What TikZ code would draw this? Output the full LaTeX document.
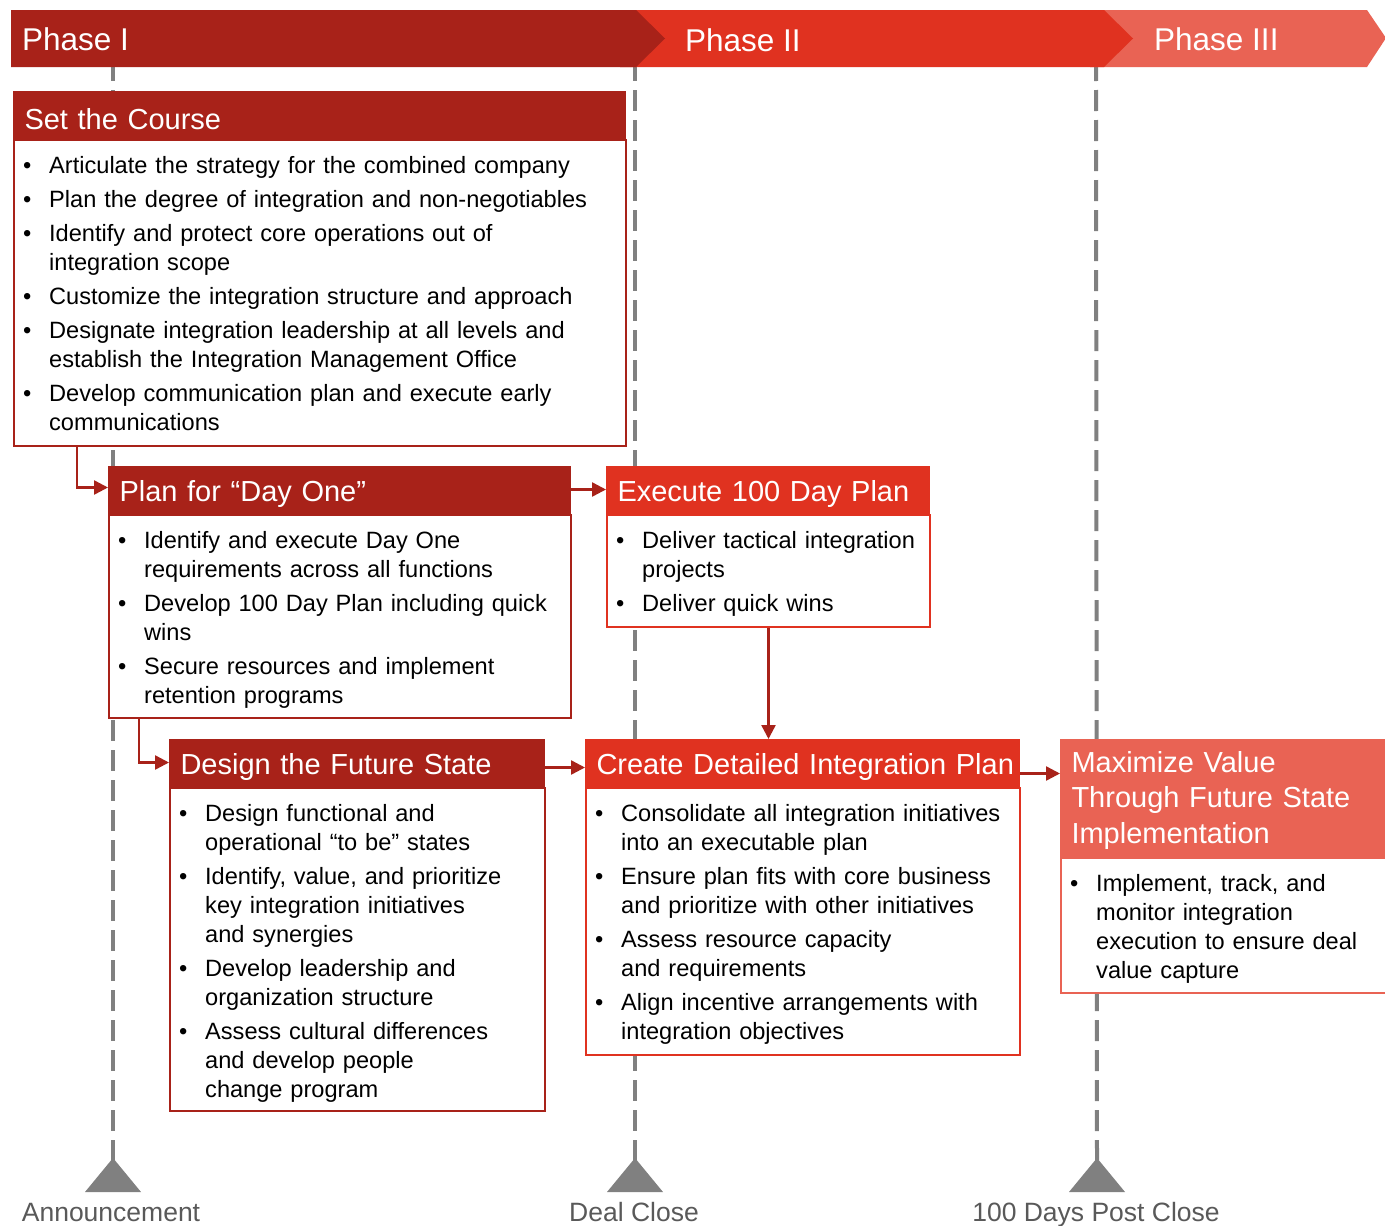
\documentclass[tikz,border=0pt]{standalone}
\usepackage{fontspec}
\setmainfont{Liberation Sans}
\usetikzlibrary{arrows.meta}
\definecolor{dred}{HTML}{A82219}
\definecolor{bred}{HTML}{E03220}
\definecolor{salm}{HTML}{E96354}
\definecolor{lgray}{HTML}{808080}
\definecolor{tgray}{HTML}{595959}
\newcommand{\bodyfont}{\fontsize{23.6}{29}\selectfont}
\newcommand{\hdrfont}{\fontsize{29}{35.5}\selectfont}
\newcommand{\phfont}{\fontsize{31.5}{36}\selectfont}
\newcommand{\lblfont}{\fontsize{26.5}{31}\selectfont}
\newcommand{\hstr}{\rule{0pt}{28pt}}
\newcommand{\bi}[1]{\par\parskip=5pt\noindent\hangindent=36pt\hangafter=1\makebox[36pt][l]{\strut\hspace{10pt}\textbullet}#1\par}
\begin{document}
\begin{tikzpicture}[x=1pt,y=-1pt,
  dashline/.style={draw=lgray,line width=4pt,dash pattern=on 21pt off 9pt},
  hdr/.style={anchor=north west,inner xsep=11pt,inner ysep=0pt,text=white,font=\hdrfont,align=left,fill=#1,draw=#1,line width=1pt},
  frm/.style={anchor=north west,inner sep=0pt,draw=#1,fill=white,line width=2pt},
  btxt/.style={anchor=north west,inner sep=0pt,font=\bodyfont,text=black},
  arr/.style={draw=dred,line width=2.5pt,-{Triangle[length=14pt,width=14pt]}},
  phtxt/.style={anchor=west,inner sep=0pt,text=white,font=\phfont},
  lbl/.style={anchor=base,inner sep=0pt,text=tgray,font=\lblfont},
  milestone/.style={fill=lgray}
]
\useasboundingbox (0,0) rectangle (1385,1226);
\fill[white] (0,0) rectangle (1385,1226);

% milestone lines
\coordinate (t1) at (113,60);
\coordinate (t2) at (635,60);
\coordinate (t3) at (1096,60);
\coordinate (b1) at (113,1160);
\coordinate (b2) at (635,1160);
\coordinate (b3) at (1097,1160);
\draw[dashline] (t1) -- (b1);
\draw[dashline] (t2) -- (b2);
\draw[dashline] (t3) -- (b3);
\fill[milestone] (b1) ++(0,-2) -- ++(28,34) -- ++(-56,0) -- cycle;
\fill[milestone] (b2) ++(0,-2) -- ++(28,34) -- ++(-56,0) -- cycle;
\fill[milestone] (b3) ++(0,-2) -- ++(28,34) -- ++(-56,0) -- cycle;
\node[lbl] (ann) at (111,1221) {Announcement};
\node[lbl] (dcl) at (634,1221) {Deal Close};
\node[lbl] (hdp) at (1096,1221) {100 Days Post Close};

% phase band
\fill[salm] (1090,10) -- (1367,10) -- (1386,38) -- (1367,67) -- (1090,67) -- cycle;
\fill[bred] (620,10) -- (1104,10) -- (1133,38.5) -- (1104,67) -- (620,67) -- cycle;
\fill[dred] (11,10) -- (636,10) -- (665,38.5) -- (636,67) -- (11,67) -- cycle;
\node[phtxt] (p1) at (22,39) {Phase I};
\node[phtxt] (p2) at (685,40) {Phase II};
\node[phtxt] (p3) at (1154,39) {Phase III};

% Set the Course
\node[frm=dred,minimum width=612pt,minimum height=306pt] (sc) at (13,139) {};
\node[hdr=dred,minimum height=48pt,text width=590pt] (sch) at (13,91) {\mbox{\hstr Set the Course}};
\node[btxt,text width=650pt] (sct) at ([yshift=-0.7pt]sc.north west) {%
\bi{Articulate the strategy for the combined company}
\bi{Plan the degree of integration and non-negotiables}
\bi{Identify and protect core operations out of\newline integration scope}
\bi{Customize the integration structure and approach}
\bi{Designate integration leadership at all levels and\newline establish the Integration Management Office}
\bi{Develop communication plan and execute early\newline communications}};

% Plan for Day One
\node[frm=dred,minimum width=462pt,minimum height=203pt] (pl) at (108,514) {};
\node[hdr=dred,minimum height=48pt,text width=440pt] (plh) at (108,466) {\mbox{\hstr Plan for “Day One”}};
\node[btxt,text width=500pt] (plt) at ([yshift=-0.7pt]pl.north west) {%
\bi{Identify and execute Day One\newline requirements across all functions}
\bi{Develop 100 Day Plan including quick\newline wins}
\bi{Secure resources and implement\newline retention programs}};

% Execute 100 Day Plan
\node[frm=bred,minimum width=323pt,minimum height=112pt] (ex) at (606,514) {};
\node[hdr=bred,minimum height=48pt,text width=301pt] (exh) at (606,466) {\mbox{\hstr Execute 100 Day Plan}};
\node[btxt,text width=360pt] (ext) at ([yshift=-0.7pt]ex.north west) {%
\bi{Deliver tactical integration\newline projects}
\bi{Deliver quick wins}};

% Design the Future State
\node[frm=dred,minimum width=375pt,minimum height=323pt] (ds) at (169,787) {};
\node[hdr=dred,minimum height=48pt,text width=353pt] (dsh) at (169,739) {\mbox{\hstr Design the Future State}};
\node[btxt,text width=420pt] (dst) at ([yshift=-0.7pt]ds.north west) {%
\bi{Design functional and\newline operational “to be” states}
\bi{Identify, value, and prioritize\newline key integration initiatives\newline and synergies}
\bi{Develop leadership and\newline organization structure}
\bi{Assess cultural differences\newline and develop people\newline change program}};

% Create Detailed Integration Plan
\node[frm=bred,minimum width=434pt,minimum height=267pt] (cr) at (585,787) {};
\node[hdr=bred,minimum height=48pt,text width=412pt] (crh) at (585,739) {\mbox{\hstr Create Detailed Integration Plan}};
\node[btxt,text width=480pt] (crt) at ([yshift=-0.7pt]cr.north west) {%
\bi{Consolidate all integration initiatives\newline into an executable plan}
\bi{Ensure plan fits with core business\newline and prioritize with other initiatives}
\bi{Assess resource capacity\newline and requirements}
\bi{Align incentive arrangements with\newline integration objectives}};

% Maximize Value
\node[frm=salm,minimum width=340pt,minimum height=135pt] (mx) at (1060,857) {};
\node[hdr=salm,minimum height=118pt,text width=318pt] (mxh) at (1060,739) {\strut Maximize Value\\Through Future State\\Implementation};
\node[btxt,text width=380pt] (mxt) at ([yshift=-0.7pt]mx.north west) {%
\bi{Implement, track, and\newline monitor integration\newline execution to ensure deal\newline value capture}};

% connectors
\draw[arr] ([xshift=64pt]sc.south west) |- ([yshift=3pt]plh.west);
\draw[arr] ([xshift=31pt]pl.south west) |- ([yshift=1pt]dsh.west);
\draw[arr] ([yshift=1pt]plh.east) -- ([yshift=1pt]exh.west);
\draw[arr] ([yshift=-4pt]dsh.east) -- ([yshift=-4pt]crh.west);
\draw[arr] (ex.south) -- (crh.north -| ex.south);
\draw[arr] ([yshift=-10pt]crh.east) -- ([yshift=-10pt]crh.east -| mxh.west);
\end{tikzpicture}
\end{document}
